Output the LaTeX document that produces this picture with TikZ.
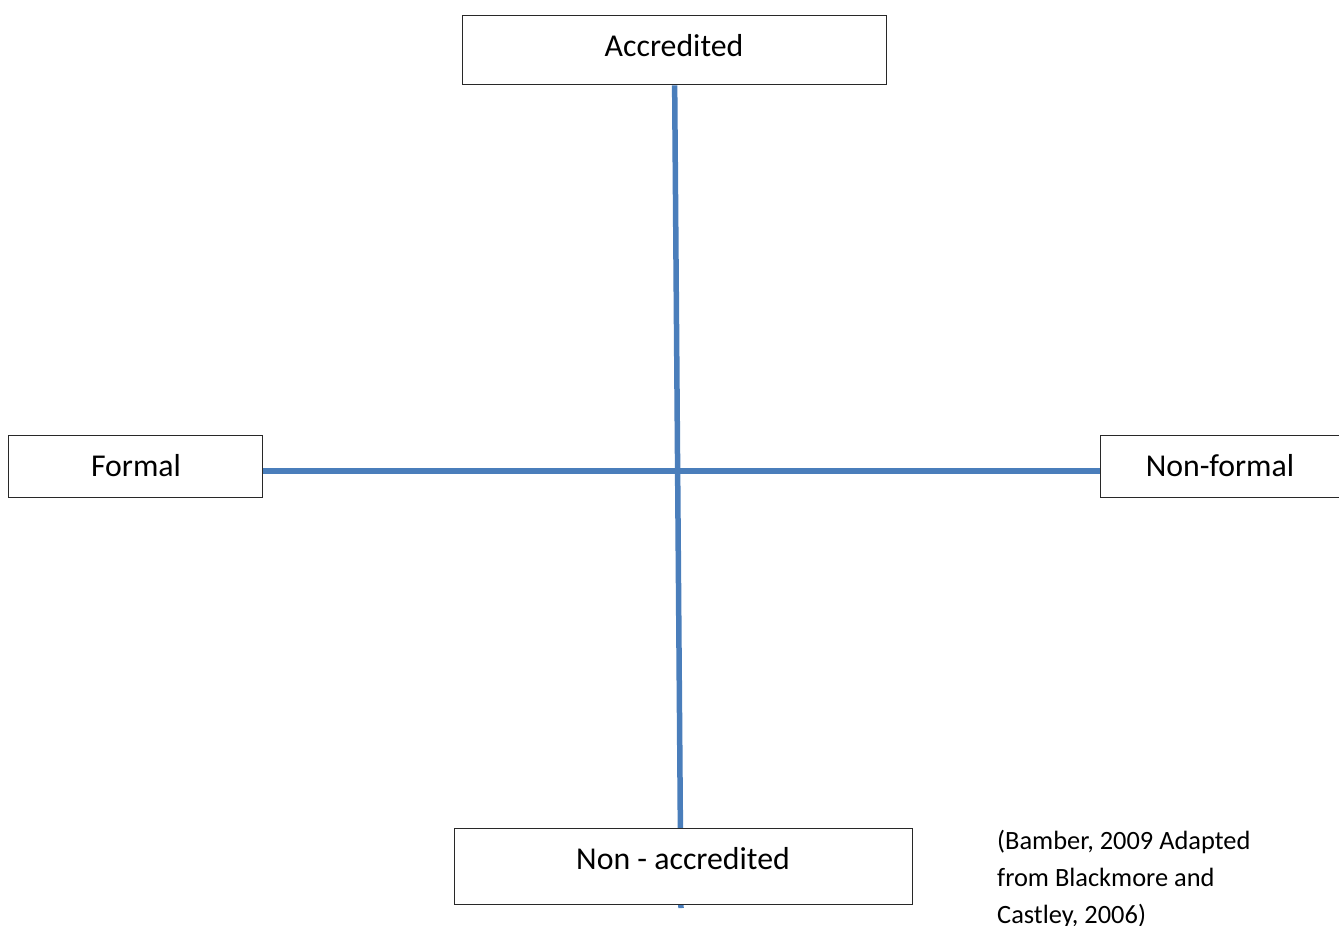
\documentclass[tikz,border=0pt]{standalone}
\usepackage{fontspec}
\setmainfont{Carlito}
\definecolor{axisblue}{RGB}{74,126,187}
\definecolor{boxline}{RGB}{40,40,40}
\tikzset{
  axisline/.style={draw=axisblue, line width=5.5pt},
  labelbox/.style={draw=boxline, line width=1.3pt, fill=white, rectangle, inner sep=0pt},
  boxtext/.style={anchor=base, inner sep=0pt, font=\fontsize{31.8}{38}\selectfont},
  citetext/.style={anchor=base west, inner sep=0pt, font=\fontsize{26.4}{37}\selectfont}
}
\begin{document}
\begin{tikzpicture}[x=1pt, y=-1pt]
  \clip (0,0) rectangle (1339,926);
  \useasboundingbox (0,0) rectangle (1339,926);

  % frames of the four poles
  \node[labelbox, minimum width=424pt, minimum height=69pt, anchor=north west] (acc) at (462,15) {};
  \node[labelbox, minimum width=254pt, minimum height=62pt, anchor=north west] (formal) at (8,435) {};
  \node[labelbox, minimum width=250pt, minimum height=62pt, anchor=north west] (nonformal) at (1100,435) {};
  \coordinate (axisend) at (681,908);

  % the two axes
  \draw[axisline] (acc.south) -- (axisend);
  \draw[axisline] ([yshift=-4.5pt]formal.east) -- ([yshift=-4.5pt]nonformal.west);

  % bottom frame sits over the end of the vertical axis
  \node[labelbox, minimum width=458pt, minimum height=76pt, anchor=north west] (nonacc) at (454,828) {};

  % pole labels
  \node[boxtext] (acctext) at (674,56) {Accredited};
  \node[boxtext] (formaltext) at (136,476) {Formal};
  \node[boxtext] (nonformaltext) at (1220,476) {Non-formal};
  \node[boxtext] (nonacctext) at (683,869) {Non - accredited};

  % source note
  \node[citetext] (cite1) at (997,849) {(Bamber, 2009 Adapted};
  \node[citetext] (cite2) at (997,886) {from Blackmore and};
  \node[citetext] (cite3) at (997,923) {Castley, 2006)};
\end{tikzpicture}
\end{document}
